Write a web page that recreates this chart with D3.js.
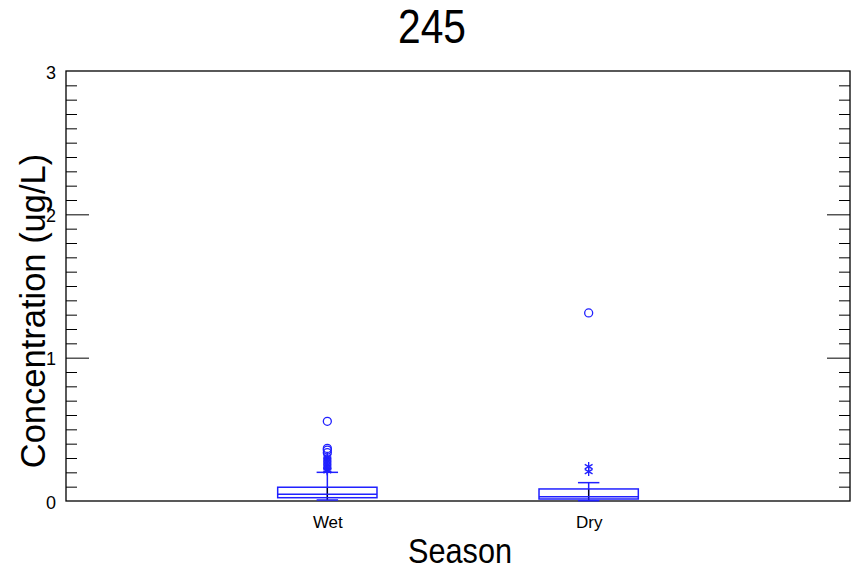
<!DOCTYPE html>
<html>
<head>
<meta charset="utf-8">
<script src="https://cdn.jsdelivr.net/npm/d3@7"></script>
<style>
body { margin: 0; background: #fff; }
svg { display: block; font-family: "Liberation Sans", Arial, sans-serif; }
</style>
</head>
<body>
<svg id="chart" width="856" height="571"></svg>
<script>
const categories = ["Wet", "Dry"];
const q1 = [0.023, 0.014];
const median = [0.047, 0.030];
const q3 = [0.096, 0.084];
const whiskerLow = [0.007, 0.002];
const whiskerHigh = [0.200, 0.128];
const outsideValues = [
  [0.21, 0.215, 0.22, 0.23, 0.24, 0.25, 0.26, 0.27, 0.28, 0.29, 0.30, 0.31],
  [0.205, 0.24]
];
const farOutsideValues = [
  [0.337, 0.355, 0.367, 0.556],
  [1.312]
];
const yTicks = [0, 1, 2, 3];
const titleText = "245";
const xTitle = "Season";
const yTitle = "Concentration (ug/L)";

const svg = d3.select("#chart");
const L = 66, R = 850, T = 71, B = 501;
const blue = "#2020ff";

const x = d3.scaleLinear().domain([0, 3]).range([L, R]);
const y = d3.scaleLinear().domain([0, 3]).range([B, T]);
const pos = d3.scaleOrdinal().domain(categories).range([1, 2]);

const minorVals = d3.range(1, 30).map(d => d / 10).filter(d => Math.abs(d - Math.round(d)) > 1e-6);

// minor/major ticks inward (left)
svg.append("g").attr("transform", `translate(${L},0)`)
  .call(d3.axisRight(y).tickValues(minorVals).tickSize(11).tickFormat(""))
  .call(g => g.select(".domain").remove());
svg.append("g").attr("transform", `translate(${L},0)`)
  .call(d3.axisRight(y).tickValues([1, 2]).tickSize(23).tickFormat(""))
  .call(g => g.select(".domain").remove());
// right side
svg.append("g").attr("transform", `translate(${R},0)`)
  .call(d3.axisLeft(y).tickValues(minorVals).tickSize(11).tickFormat(""))
  .call(g => g.select(".domain").remove());
svg.append("g").attr("transform", `translate(${R},0)`)
  .call(d3.axisLeft(y).tickValues([1, 2]).tickSize(23).tickFormat(""))
  .call(g => g.select(".domain").remove());

// y tick labels
svg.append("g").attr("transform", `translate(${L},0)`)
  .call(d3.axisLeft(y).tickValues(yTicks).tickSize(0).tickPadding(10).tickFormat(d3.format("d")))
  .call(g => g.select(".domain").remove())
  .call(g => g.selectAll("text").attr("font-size", 18).attr("font-family", "Liberation Sans, Arial, sans-serif").attr("fill", "#000").attr("dy", "0.40em"));

// x category labels
svg.append("g").attr("transform", `translate(0,${B})`)
  .call(d3.axisBottom(x).tickValues(categories.map(c => pos(c))).tickSize(0).tickPadding(15)
    .tickFormat((d, i) => categories[i]))
  .call(g => g.select(".domain").remove())
  .call(g => g.selectAll("text").attr("font-size", 17).attr("font-family", "Liberation Sans, Arial, sans-serif").attr("fill", "#000"));

// frame
svg.append("rect").attr("x", L).attr("y", T).attr("width", R - L).attr("height", B - T)
  .attr("fill", "none").attr("stroke", "#000").attr("stroke-width", 1.3);

const halfBox = 0.19, halfCap = 0.041;
const boxes = svg.append("g");
categories.forEach((c, i) => {
  const cx = x(pos(c));
  const g = boxes.append("g");
  g.append("line").attr("x1", cx).attr("x2", cx).attr("y1", y(whiskerLow[i])).attr("y2", y(whiskerHigh[i]))
    .attr("stroke", blue).attr("stroke-width", 1.5);
  g.append("line").attr("x1", cx).attr("x2", cx).attr("y1", y(whiskerLow[i])).attr("y2", y(q3[i]))
    .attr("stroke", "#000").attr("stroke-width", 1.2);
  [whiskerLow[i], whiskerHigh[i]].forEach(v => {
    g.append("line").attr("x1", x(pos(c) - halfCap)).attr("x2", x(pos(c) + halfCap))
      .attr("y1", y(v)).attr("y2", y(v)).attr("stroke", blue).attr("stroke-width", 1.5);
  });
  g.append("rect").attr("x", x(pos(c) - halfBox)).attr("width", x(pos(c) + halfBox) - x(pos(c) - halfBox))
    .attr("y", y(q3[i])).attr("height", y(q1[i]) - y(q3[i]))
    .attr("fill", "none").attr("stroke", blue).attr("stroke-width", 1.5);
  g.append("line").attr("x1", x(pos(c) - halfBox)).attr("x2", x(pos(c) + halfBox))
    .attr("y1", y(median[i])).attr("y2", y(median[i])).attr("stroke", blue).attr("stroke-width", 1.5);
  outsideValues[i].forEach(v => {
    const py = y(v), s = 4.5;
    const star = g.append("g").attr("transform", `translate(${cx},${py})`);
    [[0, -s, 0, s], [-s * 0.87, -s * 0.5, s * 0.87, s * 0.5], [-s * 0.87, s * 0.5, s * 0.87, -s * 0.5]].forEach(l => {
      star.append("line").attr("x1", l[0]).attr("y1", l[1]).attr("x2", l[2]).attr("y2", l[3])
        .attr("stroke", blue).attr("stroke-width", 1.3);
    });
  });
  farOutsideValues[i].forEach(v => {
    g.append("circle").attr("cx", cx).attr("cy", y(v)).attr("r", 4)
      .attr("fill", "none").attr("stroke", blue).attr("stroke-width", 1.3);
  });
});

// titles
svg.append("text").attr("x", 432).attr("y", 43).attr("text-anchor", "middle")
  .attr("font-size", 48).attr("textLength", 68).attr("lengthAdjust", "spacingAndGlyphs")
  .attr("fill", "#000").text(titleText);
svg.append("text").attr("x", 460).attr("y", 563).attr("text-anchor", "middle")
  .attr("font-size", 35).attr("textLength", 104).attr("lengthAdjust", "spacingAndGlyphs")
  .attr("fill", "#000").text(xTitle);
svg.append("text").attr("transform", "translate(45,311) rotate(-90)").attr("text-anchor", "middle")
  .attr("font-size", 34.5).attr("fill", "#000").text(yTitle);
</script>
</body>
</html>
